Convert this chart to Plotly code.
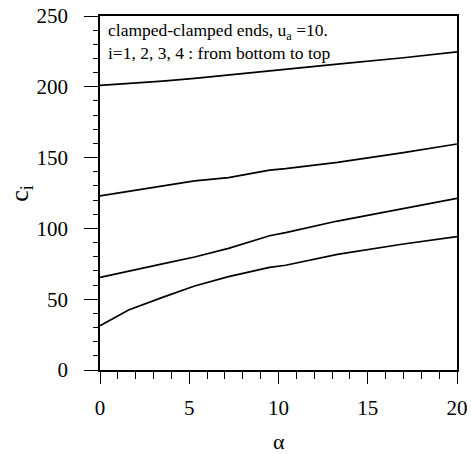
import plotly.graph_objects as go

alpha = [0, 1.6, 3.5, 5.3, 7.2, 9.5, 10.4, 13.3, 17, 20]
c1 = [31.3, 42.4, 51.3, 59.3, 65.9, 72.5, 74.0, 81.7, 89.0, 94.2]
c2 = [65.4, 69.5, 74.9, 79.8, 85.9, 94.8, 97.0, 105.2, 114.0, 121.2]
c3 = [122.9, 126.0, 130.0, 133.5, 135.8, 141.2, 142.2, 146.6, 153.5, 159.6]
c4 = [201.0, 202.3, 204.0, 206.0, 208.5, 211.5, 212.5, 216.0, 220.5, 224.6]

curves = [c1, c2, c3, c4]

fig = go.Figure()
for c in curves:
    fig.add_trace(go.Scatter(x=alpha, y=c, mode="lines",
                             line=dict(color="black", width=1.7),
                             showlegend=False, hoverinfo="skip"))

font = "Liberation Serif"

fig.add_annotation(x=0, y=1, xref="paper", yref="paper", xanchor="left", yanchor="top",
                   xshift=6, yshift=-2, align="left",
                   text="clamped-clamped ends, u<sub>a</sub> =10.<br>i=1, 2, 3, 4 : from bottom to top",
                   showarrow=False, font=dict(family=font, size=17.5, color="black"))

fig.add_annotation(x=-0.222, y=0.5, xref="paper", yref="paper", xanchor="center", yanchor="middle",
                   text="c<sub>i</sub>", textangle=-90, showarrow=False,
                   font=dict(family=font, size=26, color="black"))
fig.add_annotation(x=0.5, y=0, xref="paper", yref="paper", xanchor="center", yanchor="middle",
                   yshift=-71, text="α", showarrow=False,
                   font=dict(family=font, size=22, color="black"))

fig.update_layout(
    template="none",
    width=471, height=454,
    margin=dict(l=100, r=14, t=16, b=84),
    paper_bgcolor="white", plot_bgcolor="white",
    font=dict(family=font, color="black"),
    xaxis=dict(range=[0, 20], tickvals=[0, 5, 10, 15, 20], ticks="outside", ticklen=12,
               tickwidth=1.2, tickcolor="black", showline=True, linecolor="black", linewidth=1.5,
               mirror=True, showgrid=False, zeroline=False, automargin=False,
               ticklabelstandoff=6,
               tickfont=dict(size=21, family=font, color="black"),
               minor=dict(dtick=1, ticks="outside", ticklen=7, tickcolor="black", tickwidth=1, showgrid=False)),
    yaxis=dict(range=[0, 250], tickvals=[0, 50, 100, 150, 200, 250], ticks="outside", ticklen=14,
               tickwidth=1.2, tickcolor="black", showline=True, linecolor="black", linewidth=1.5,
               mirror=True, showgrid=False, zeroline=False, automargin=False,
               ticklabelstandoff=12,
               tickfont=dict(size=21, family=font, color="black"),
               minor=dict(dtick=10, ticks="outside", ticklen=5, tickcolor="black", tickwidth=1, showgrid=False)),
)

fig.write_html("out.html")
